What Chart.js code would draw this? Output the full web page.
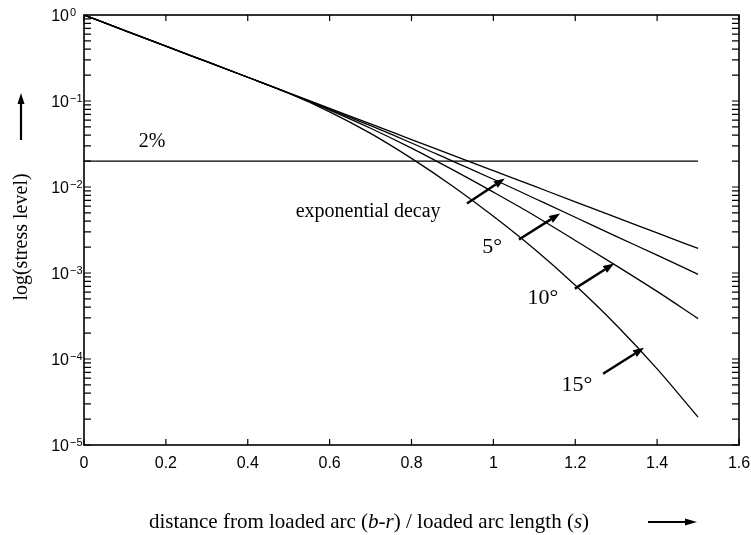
<!DOCTYPE html>
<html lang="en">
<head>
<meta charset="UTF-8">
<title>Stress level decay</title>
<script src="https://cdn.jsdelivr.net/npm/chart.js"></script>
<style>
  html, body { margin: 0; padding: 0; background: #fff; }
</style>
</head>
<body>
<canvas id="stressChart" width="751" height="535"></canvas>
<script>
// distance from loaded arc / loaded arc length
const xValues = [0, 0.1, 0.2, 0.3, 0.4, 0.5, 0.6, 0.7, 0.8, 0.9, 1.0, 1.1, 1.2, 1.3, 1.4, 1.5];
// stress level
const expDecay = [1, 0.659, 0.4345, 0.2864, 0.1888, 0.1245, 0.0820, 0.0541, 0.03565, 0.0235, 0.01549, 0.01021, 0.00673, 0.00444, 0.00292, 0.00193];
const deg5 = [1, 0.659, 0.4345, 0.2864, 0.1888, 0.1239, 0.0802, 0.0516, 0.0325, 0.0200, 0.0123, 0.00740, 0.00445, 0.00267, 0.00161, 0.000966];
const deg10 = [1, 0.659, 0.4345, 0.2864, 0.1888, 0.1236, 0.0783, 0.0482, 0.0283, 0.0159, 0.00871, 0.00467, 0.00239, 0.00122, 0.000611, 0.000295];
const deg15 = [1, 0.659, 0.4345, 0.2864, 0.1888, 0.1230, 0.0748, 0.0420, 0.0215, 0.01026, 0.00457, 0.00190, 0.000721, 0.000249, 0.0000769, 0.0000211];
// 2% reference line
const twoPctX = [0, 1.5];
const twoPctY = [0.02, 0.02];

const xTicks = [0, 0.2, 0.4, 0.6, 0.8, 1, 1.2, 1.4, 1.6];
const xTickLabels = ['0', '0.2', '0.4', '0.6', '0.8', '1', '1.2', '1.4', '1.6'];
const yTicks = [1e-5, 1e-4, 1e-3, 1e-2, 1e-1, 1];
const yTickExp = ['\u22125', '\u22124', '\u22123', '\u22122', '\u22121', '0'];

// text labels inside the plot (data coordinates)
const noteText = ['2%', 'exponential decay', '5°', '10°', '15°'];
const noteX = [0.166, 0.694, 0.997, 1.121, 1.204];
const noteY = [0.034, 0.0051, 0.00198, 0.000503, 0.0000501];
// pointer arrows from the labels to the curves
const arrowTailX = [0.9355, 1.0625, 1.199, 1.268];
const arrowTailY = [0.00644, 0.00245, 0.000658, 0.0000673];
const arrowHeadX = [1.028, 1.163, 1.295, 1.368];
const arrowHeadY = [0.01259, 0.00492, 0.00129, 0.000135];

const SERIF = '"Liberation Serif", "Times New Roman", serif';
const SANS = '"Liberation Sans", Arial, sans-serif';

function pairs(xs, ys) {
  return xs.map((x, i) => ({ x: x, y: ys[i] }));
}

function arrow(ctx, x1, y1, x2, y2, width, headLen, headHalf) {
  const a = Math.atan2(y2 - y1, x2 - x1);
  const bx = x2 - headLen * Math.cos(a);
  const by = y2 - headLen * Math.sin(a);
  ctx.lineWidth = width;
  ctx.beginPath();
  ctx.moveTo(x1, y1);
  ctx.lineTo(bx, by);
  ctx.stroke();
  ctx.beginPath();
  ctx.moveTo(x2, y2);
  ctx.lineTo(bx + headHalf * Math.sin(a), by - headHalf * Math.cos(a));
  ctx.lineTo(bx - headHalf * Math.sin(a), by + headHalf * Math.cos(a));
  ctx.closePath();
  ctx.fill();
}

// frame, inward ticks, labels and axis titles
const extras = {
  id: 'extras',
  afterDraw(chart) {
    const ctx = chart.ctx;
    const area = chart.chartArea;
    const xs = chart.scales.x;
    const ys = chart.scales.y;
    ctx.save();
    ctx.strokeStyle = '#000';
    ctx.fillStyle = '#000';

    ctx.lineWidth = 1.6;
    ctx.strokeRect(area.left, area.top, area.right - area.left, area.bottom - area.top);

    ctx.lineWidth = 1.2;
    ctx.beginPath();
    xTicks.forEach(v => {
      const px = xs.getPixelForValue(v);
      ctx.moveTo(px, area.bottom);
      ctx.lineTo(px, area.bottom - 6);
      ctx.moveTo(px, area.top);
      ctx.lineTo(px, area.top + 6);
    });
    for (let e = -5; e < 0; e++) {
      for (let m = 1; m <= 9; m++) {
        const py = ys.getPixelForValue(m * Math.pow(10, e));
        ctx.moveTo(area.left, py);
        ctx.lineTo(area.left + 7, py);
        ctx.moveTo(area.right, py);
        ctx.lineTo(area.right - 7, py);
      }
    }
    ctx.stroke();

    // y tick labels: 10 with raised exponent
    ctx.textBaseline = 'alphabetic';
    yTicks.forEach((v, i) => {
      const py = ys.getPixelForValue(v);
      ctx.textAlign = 'left';
      ctx.font = '11px ' + SANS;
      ctx.fillText(yTickExp[i], 70, py + 1);
      ctx.textAlign = 'right';
      ctx.font = '16px ' + SANS;
      ctx.fillText('10', 69, py + 6);
    });

    // labels
    ctx.textAlign = 'center';
    ctx.textBaseline = 'middle';
    noteText.forEach((t, i) => {
      ctx.font = (i < 2 ? '20px ' : '22px ') + SERIF;
      ctx.fillText(t, xs.getPixelForValue(noteX[i]), ys.getPixelForValue(noteY[i]));
    });
    arrowTailX.forEach((v, i) => {
      arrow(ctx, xs.getPixelForValue(v), ys.getPixelForValue(arrowTailY[i]),
        xs.getPixelForValue(arrowHeadX[i]), ys.getPixelForValue(arrowHeadY[i]), 2.4, 11, 4);
    });

    // y axis title
    ctx.save();
    ctx.translate(22, 237);
    ctx.rotate(-Math.PI / 2);
    ctx.font = '20px ' + SERIF;
    ctx.fillText('log(stress level)', 0, 0);
    ctx.restore();
    arrow(ctx, 21, 140, 21, 93, 2.2, 11, 3.5);

    // x axis title with italic parts
    const parts = [
      ['distance from loaded arc (', false], ['b-r', true], [') / loaded arc length (', false], ['s', true], [')', false]
    ];
    const fontOf = it => (it ? 'italic ' : '') + '21px ' + SERIF;
    let total = 0;
    parts.forEach(p => { ctx.font = fontOf(p[1]); total += ctx.measureText(p[0]).width; });
    let tx = 369 - total / 2;
    const ty = 522;
    ctx.textAlign = 'left';
    parts.forEach(p => {
      ctx.font = fontOf(p[1]);
      ctx.fillText(p[0], tx, ty);
      tx += ctx.measureText(p[0]).width;
    });
    arrow(ctx, 648, ty, 697, ty, 2.2, 12, 3.5);
    ctx.restore();
  }
};

const lineStyle = {
  borderColor: '#000',
  borderWidth: 1.3,
  pointRadius: 0,
  fill: false,
  cubicInterpolationMode: 'monotone'
};

new Chart(document.getElementById('stressChart').getContext('2d'), {
  type: 'line',
  data: {
    datasets: [
      Object.assign({ label: 'exponential decay', data: pairs(xValues, expDecay) }, lineStyle),
      Object.assign({ label: '5°', data: pairs(xValues, deg5) }, lineStyle),
      Object.assign({ label: '10°', data: pairs(xValues, deg10) }, lineStyle),
      Object.assign({ label: '15°', data: pairs(xValues, deg15) }, lineStyle),
      Object.assign({ label: '2%', data: pairs(twoPctX, twoPctY) }, lineStyle)
    ]
  },
  options: {
    responsive: false,
    animation: false,
    layout: { padding: { left: 0, top: 15, right: 12, bottom: 0 } },
    plugins: { legend: { display: false }, tooltip: { enabled: false } },
    scales: {
      x: {
        type: 'linear',
        min: 0,
        max: 1.6,
        grid: { display: false, drawTicks: false },
        border: { display: false },
        ticks: {
          color: '#000',
          font: { family: SANS, size: 16 },
          padding: 9,
          autoSkip: false,
          maxRotation: 0,
          callback: (v, i) => xTickLabels[i]
        },
        afterBuildTicks: s => { s.ticks = xTicks.map(v => ({ value: v })); },
        afterFit: s => { s.height = 90; s.paddingLeft = 0; s.paddingRight = 0; }
      },
      y: {
        type: 'logarithmic',
        min: 1e-5,
        max: 1,
        grid: { display: false, drawTicks: false },
        border: { display: false },
        ticks: { display: false },
        afterBuildTicks: s => { s.ticks = yTicks.map(v => ({ value: v })); },
        afterFit: s => { s.width = 84; s.paddingTop = 0; s.paddingBottom = 0; }
      }
    }
  },
  plugins: [extras]
});
</script>
</body>
</html>
